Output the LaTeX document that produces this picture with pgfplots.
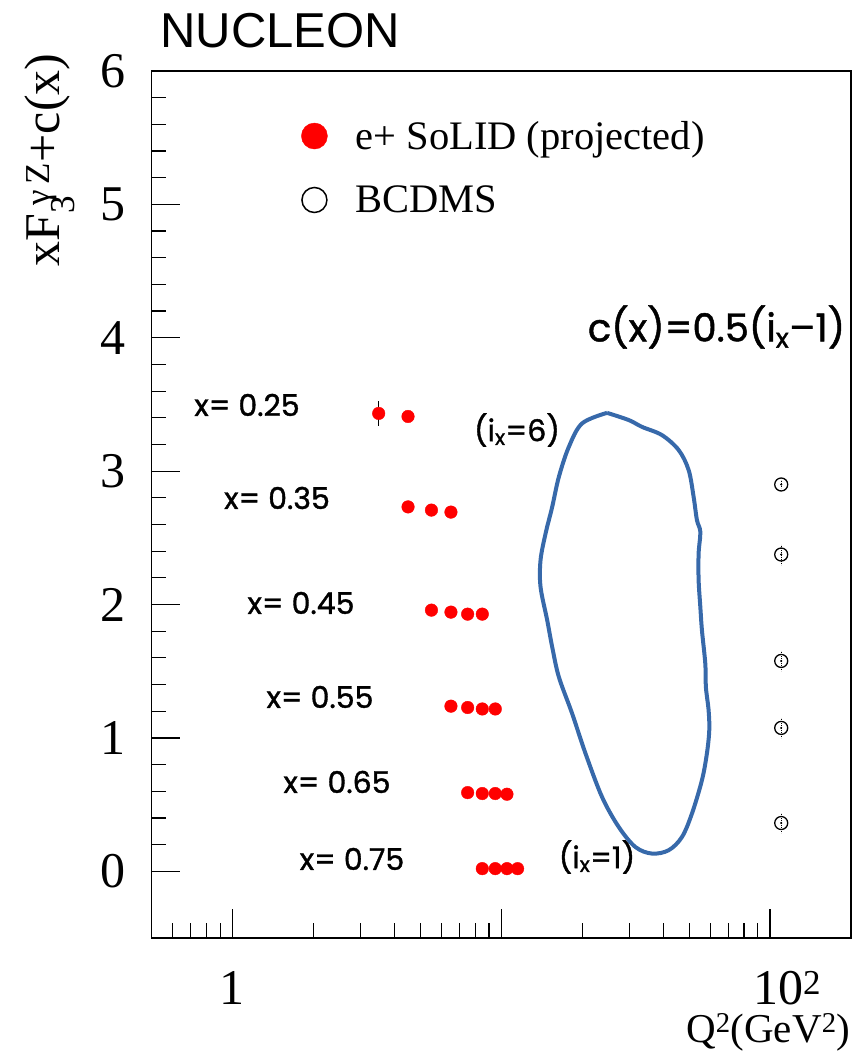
\documentclass[border=0pt]{standalone}
\usepackage{fontspec}
\setmainfont{Liberation Serif}
\newfontfamily\helv{Liberation Sans}
\newfontfamily\comic[FakeBold=1.2]{Poppins}
\usepackage{pgfplots}
\pgfplotsset{compat=1.18}
\definecolor{contourblue}{RGB}{55,105,170}
\begin{document}
\begin{tikzpicture}
\useasboundingbox (-151.5pt,-116pt) rectangle (711.5pt,938pt);
\begin{axis}[
  at={(0pt,0pt)}, anchor=south west,
  scale only axis, width=699.5pt, height=867pt,
  xmode=log, xmin=0.5, xmax=200, ymin=-0.5, ymax=6,
  xtick={1,10,100}, xticklabels={1,,\hspace*{34pt}10\textsuperscript{2}},
  minor xtick={0.6,0.7,0.8,0.9,2,3,4,5,6,7,8,9,20,30,40,50,60,70,80,90},
  ytick={0,1,2,3,4,5,6}, minor y tick num=4,
  xtick pos=bottom, ytick pos=left, tick align=inside,
  major tick length=29pt, minor tick length=14.5pt,
  every tick/.style={black, line width=1.2pt},
  axis line style={line width=1.5pt},
  /pgf/number format/assume math mode=true,
  tick label style={font=\fontsize{50}{60}\selectfont},
  xticklabel style={anchor=base, yshift=-66pt, inner sep=0pt},
  yticklabel style={xshift=-22pt},
  legend cell align=left,
  legend style={at={(0.2137,0.9446)}, anchor=north west, draw=none, fill=none,
    font=\fontsize{40.5}{48}\selectfont, row sep=31pt, inner sep=0pt,
    /tikz/every odd column/.append style={column sep=26pt}},
]
\addplot[only marks, mark=*, mark size=6.3pt, mark options={draw=red, fill=red},
  legend image code/.code={\fill[red] (13pt,0pt) circle (13pt);},
  error bars/.cd, y dir=both, y explicit, error mark=none,
  error bar style={black, line width=1pt}]
  coordinates {
  (3.5,3.433) +- (0,0.095)
  (4.5,3.41) +- (0,0.02)
  (4.5,2.732) +- (0,0.02)
  (5.5,2.708) +- (0,0.02)
  (6.5,2.693) +- (0,0.02)
  (5.5,1.958) +- (0,0.02)
  (6.5,1.943) +- (0,0.02)
  (7.5,1.928) +- (0,0.02)
  (8.5,1.928) +- (0,0.02)
  (6.5,1.238) +- (0,0.02)
  (7.5,1.228) +- (0,0.02)
  (8.5,1.217) +- (0,0.02)
  (9.5,1.217) +- (0,0.02)
  (7.5,0.590) +- (0,0.02)
  (8.5,0.583) +- (0,0.02)
  (9.5,0.583) +- (0,0.02)
  (10.5,0.578) +- (0,0.02)
  (8.5,0.02) +- (0,0.02)
  (9.5,0.02) +- (0,0.02)
  (10.5,0.02) +- (0,0.02)
  (11.5,0.02) +- (0,0.02)
  };
\addplot[only marks, mark=o, mark size=6.5pt, mark options={draw=black, fill=white, line width=1.3pt},
  legend image code/.code={\draw[black, line width=1.5pt] (13pt,0pt) circle (12.5pt);},
  error bars/.cd, y dir=both, y explicit, error mark=none,
  error bar style={black, line width=1pt, densely dotted}]
  coordinates {
  (110,2.900) +- (0,0.03)
  (110,2.375) +- (0,0.075)
  (110,1.577) +- (0,0.075)
  (110,1.075) +- (0,0.075)
  (110,0.362) +- (0,0.075)
  };
\addplot[only marks, mark=*, mark size=0.8pt, black, forget plot]
  coordinates {(110,2.900) (110,2.375) (110,1.577) (110,1.075) (110,0.362)};
\addplot[contourblue, line width=4pt, smooth, tension=0.55, forget plot] coordinates {
  (24.75,3.437) (29.81,3.383) (33.38,3.332) (39.62,3.270) (45.71,3.158)
  (49.78,3.008) (51.95,2.807) (53.44,2.633) (55.02,2.545) (54.22,2.383)
  (54.22,2.183) (55.02,1.982) (55.78,1.808) (57.41,1.558) (57.70,1.382)
  (59.06,1.208) (59.40,1.058) (58.21,0.883) (55.78,0.683) (51.21,0.433)
  (47.00,0.257) (41.95,0.158) (36.37,0.133) (31.56,0.182) (27.36,0.332)
  (23.71,0.557) (20.58,0.883) (18.35,1.183) (16.38,1.457) (15.47,1.682)
  (14.82,1.883) (14.00,2.132) (14.00,2.333) (14.62,2.533) (15.47,2.732)
  (16.38,2.957) (17.84,3.182) (19.99,3.358) (24.75,3.437)
};
\legend{e+ SoLID (projected), BCDMS}
\end{axis}
\node[anchor=base west, font=\helv\fontsize{49}{58}\selectfont] at (5.5pt,890pt) {NUCLEON};
\node[rotate=90, anchor=base east, font=\fontsize{50}{60}\selectfont] at (-91.5pt,888pt)
  {xF\rlap{\textsubscript{3}}\,\textsuperscript{γ\,Z}+c(x)};
\node[anchor=base east, inner sep=0pt, font=\fontsize{41}{48}\selectfont] at (699pt,-104pt)
  {Q\textsuperscript{2}(GeV\textsuperscript{2})};
\begin{scope}[every node/.style={font=\comic\fontsize{30}{36}\selectfont}]
\node at (95.5pt,533pt) {x= 0.25};
\node at (125.5pt,440pt) {x= 0.35};
\node at (149.5pt,335pt) {x= 0.45};
\node at (168.5pt,241pt) {x= 0.55};
\node at (185.5pt,156pt) {x= 0.65};
\node at (200.5pt,79pt) {x= 0.75};
\node at (365.5pt,508pt) {(i\textsubscript{x}=6)};
\node at (445.5pt,81pt) {(i\textsubscript{x}=1)};
\end{scope}
\node[font=\comic\fontsize{38.5}{44}\selectfont] at (565pt,611pt) {c(x)=0.5(i\textsubscript{x}–1)};
\end{tikzpicture}
\end{document}
